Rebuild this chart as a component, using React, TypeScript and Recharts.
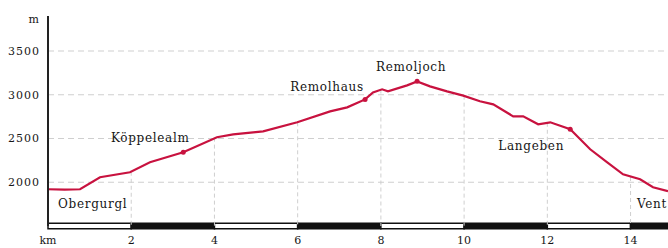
import { LineChart, Line, XAxis, YAxis, CartesianGrid, ReferenceLine, ReferenceArea, ReferenceDot } from 'recharts'

// distance in km, elevation in m
const distance = [0, 0.4, 0.77, 1.25, 1.97, 2.45, 3.25, 4.06, 4.45, 5.17, 5.99, 6.78, 7.19, 7.62, 7.81, 8.03, 8.17, 8.63, 8.87, 9.18, 9.59, 9.98, 10.38, 10.7, 11.18, 11.42, 11.78, 12.07, 12.55, 13.03, 13.44, 13.82, 14.23, 14.54, 14.9]
const elevation = [1920, 1915, 1920, 2057, 2114, 2228, 2342, 2514, 2548, 2582, 2685, 2810, 2856, 2947, 3027, 3062, 3039, 3107, 3153, 3096, 3039, 2990, 2925, 2890, 2753, 2753, 2662, 2685, 2605, 2377, 2228, 2091, 2034, 1943, 1897]

const placeNames = ['Obergurgl', 'Köppelealm', 'Remolhaus', 'Remoljoch', 'Langeben', 'Vent']
const placeKm = [0, 3.25, 7.62, 8.87, 12.55, 14.9]
const placeElev = [1920, 2342, 2947, 3153, 2605, 1897]
const placeMarked = [false, true, true, true, true, false]

const kmTicks = [0, 2, 4, 6, 8, 10, 12, 14]
const elevAtTick = [1920, 2120, 2510, 2685, 3060, 2990, 2680, 2060]
const elevTicks = [2000, 2500, 3000, 3500]
const unitTick = 3870

const barStarts = [0, 2, 4, 6, 8, 10, 12, 14]
const barEnds = [2, 4, 6, 8, 10, 12, 14, 14.9]

const data = distance.map((km, i) => ({ km, elev: elevation[i] }))

const RED = '#c8123f'
const FONT = 'DejaVu Serif'
const INK = '#161616'

const labelLayout: Record<string, { dx: number; dy: number; anchor: 'start' | 'middle' | 'end' }> = {
  Obergurgl: { dx: 10, dy: 15, anchor: 'start' },
  Köppelealm: { dx: -33, dy: -14, anchor: 'middle' },
  Remolhaus: { dx: -38, dy: -12, anchor: 'middle' },
  Remoljoch: { dx: -6, dy: -14, anchor: 'middle' },
  Langeben: { dx: -39, dy: 17, anchor: 'middle' },
  Vent: { dx: -31, dy: 13, anchor: 'start' },
}

const placeLabel = (name: string) => (props: any) => {
  const vb = props.viewBox
  const cx = vb.x + vb.width / 2
  const cy = vb.y + vb.height / 2
  const l = labelLayout[name]
  return (
    <text
      x={cx + l.dx}
      y={cy + l.dy}
      textAnchor={l.anchor}
      dominantBaseline="central"
      fontFamily={FONT}
      fontSize={12}
      letterSpacing={0.7}
      fill={INK}
    >
      {name}
    </text>
  )
}

const KmTick = ({ x, y, payload }: any) => (
  <text x={x} y={y + 10} textAnchor="middle" fontFamily={FONT} fontSize={11} fill={INK}>
    {payload.value === 0 ? 'km' : String(payload.value)}
  </text>
)

export default function App() {
  return (
    <div style={{ position: 'absolute', left: 0, top: 0 }}>
      <LineChart width={668} height={248} data={data} margin={{ top: 16, right: 0, bottom: 0, left: 0 }}>
        <CartesianGrid
          horizontal
          vertical={false}
          horizontalValues={elevTicks}
          stroke="#cfcfcf"
          strokeDasharray="6 4"
        />
        <XAxis
          dataKey="km"
          type="number"
          domain={[0, 14.9]}
          ticks={kmTicks}
          axisLine={false}
          tickLine={false}
          height={22}
          tick={<KmTick />}
          interval={0}
        />
        <YAxis
          type="number"
          domain={[1500, 3900]}
          ticks={[...elevTicks, unitTick]}
          tickFormatter={(v) => (v === unitTick ? 'm' : String(v))}
          width={48}
          axisLine={{ stroke: '#222', strokeWidth: 2 }}
          tickLine={false}
          tick={{ fontFamily: FONT, fontSize: 11, fill: INK, letterSpacing: 1 }}
          interval={0}
        />
        {kmTicks.slice(1).map((km, i) => (
          <ReferenceLine
            key={km}
            segment={[{ x: km, y: elevAtTick[i + 1] }, { x: km, y: 1500 }]}
            stroke="#cfcfcf"
            strokeDasharray="4 3"
          />
        ))}
        <Line
          type="linear"
          dataKey="elev"
          stroke={RED}
          strokeWidth={2.2}
          dot={false}
          isAnimationActive={false}
        />
        {barStarts.map((x1, i) => (
          <ReferenceArea
            key={x1}
            x1={x1}
            x2={barEnds[i]}
            y1={1468}
            y2={1532}
            ifOverflow="visible"
            fill={i % 2 === 0 ? '#ffffff' : '#111111'}
            fillOpacity={1}
            stroke="#111111"
            strokeWidth={1.5}
          />
        ))}
        {placeNames.map((name, i) => (
          <ReferenceDot
            key={name}
            x={placeKm[i]}
            y={placeElev[i]}
            r={placeMarked[i] ? 2.5 : 0.01}
            fill={RED}
            stroke="none"
            ifOverflow="visible"
            label={placeLabel(name)}
          />
        ))}
      </LineChart>
    </div>
  )
}
